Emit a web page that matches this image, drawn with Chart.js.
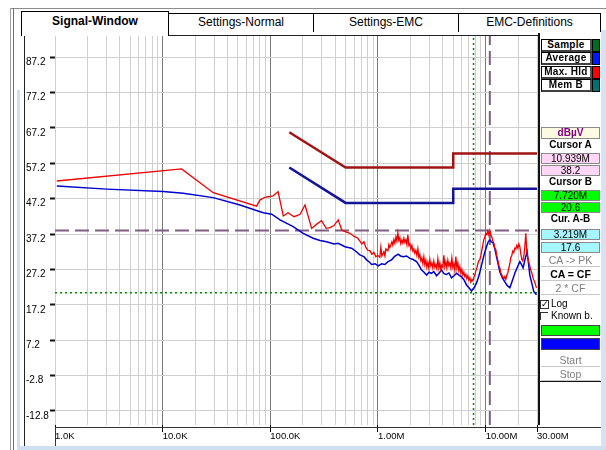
<!DOCTYPE html>
<html lang="en">
<head>
<meta charset="UTF-8">
<title>Signal-Window</title>
<script src="https://cdn.jsdelivr.net/npm/chart.js"></script>
<style>
    body {
        margin: 0;
        width: 606px;
        height: 450px;
        position: relative;
        overflow: hidden;
        background: #fff;
        font-family: Arial, "Liberation Sans", sans-serif;
        color: #000;
    }
    .abs { position: absolute; }
    .tab {
        position: absolute;
        top: 13px;
        height: 18px;
        border: 1px solid #000;
        border-bottom: none;
        background: #fff;
        font-size: 12px;
        line-height: 17px;
        text-align: center;
    }
    .tab.active { top: 11px; height: 24px; font-weight: bold; line-height: 19px; z-index: 3; }
    #chartBox { position: absolute; left: 24px; top: 36px; }
    .btn {
        position: absolute;
        left: 541px;
        width: 48px;
        height: 10px;
        border: 1px solid #000;
        border-right: 2px solid #505050;
        border-bottom: 2px solid #404040;
        font-size: 10px;
        font-weight: bold;
        line-height: 10px;
        text-align: center;
        letter-spacing: 0.3px;
        background: #fff;
    }
    .sw { position: absolute; left: 592px; width: 6px; height: 11px; border: 1px solid #000; }
    .val {
        position: absolute;
        left: 541px;
        width: 57px;
        height: 9px;
        border: 1px solid #8a8a8a;
        font-size: 10px;
        line-height: 9px;
        text-align: center;
    }
    .lbl {
        position: absolute;
        left: 541px;
        width: 59px;
        height: 10px;
        font-size: 10px;
        font-weight: bold;
        line-height: 10px;
        text-align: center;
    }
    .cmd {
        position: absolute;
        left: 541px;
        width: 59px;
        height: 11px;
        border-bottom: 1px solid #c8c8c8;
        font-size: 10.5px;
        line-height: 11px;
        text-align: center;
        color: #808080;
    }
</style>
</head>
<body>
    <!-- window frame and tabs -->
    <div class="abs" style="left:10px;top:8px;width:596px;height:1px;background:#8c8c8c"></div>
    <div class="abs" style="left:10px;top:8px;width:1px;height:442px;background:#a0a0a0"></div>
    <div class="abs" style="left:13px;top:8px;width:1px;height:442px;background:#707070"></div>
    <div class="abs" style="left:17px;top:90px;width:3px;height:360px;background:#cfe0f3"></div>
    <div class="abs" style="left:168px;top:31px;width:432px;height:1px;background:#000"></div>
    <div class="tab active" style="left:21px;width:146px">Signal-Window</div>
    <div class="tab" style="left:168px;width:144px">Settings-Normal</div>
    <div class="tab" style="left:313px;width:144px">Settings-EMC</div>
    <div class="tab" style="left:458px;width:141px">EMC-Definitions</div>

    <div id="chartBox"><canvas id="signalChart" width="582" height="412"></canvas></div>

    <!-- plot frame -->
    <div class="abs" style="left:24px;top:35px;width:1px;height:411px;background:#222"></div>
    <div class="abs" style="left:24px;top:35px;width:514px;height:1px;background:#222"></div>
    <div class="abs" style="left:55px;top:427px;width:546px;height:1px;background:#333"></div>
    <div class="abs" style="left:55px;top:427px;width:1px;height:19px;background:#333"></div>

    <!-- right panel -->
    <div class="abs" style="left:538px;top:33px;width:63px;height:392px;background:#fff;border-left:2px solid #111"></div>
    <div class="abs" style="left:538px;top:381px;width:63px;height:1px;background:#111"></div>

    <div class="btn" style="top:39px">Sample</div><div class="sw" style="top:39px;background:#006e1e"></div>
    <div class="btn" style="top:52px">Average</div><div class="sw" style="top:52px;background:#0018ff"></div>
    <div class="btn" style="top:66px">Max. Hld</div><div class="sw" style="top:66px;background:#ff0000"></div>
    <div class="btn" style="top:79px">Mem B</div><div class="sw" style="top:79px;background:#007070"></div>

    <div class="val" style="top:127px;height:10px;background:#fffbe2;color:#800080;font-weight:bold;line-height:10px">dBµV</div>
    <div class="lbl" style="top:140px">Cursor A</div>
    <div class="val" style="top:153px;background:#ffd6f6">10.939M</div>
    <div class="val" style="top:165px;background:#ffd6f6">38.2</div>
    <div class="lbl" style="top:177px">Cursor B</div>
    <div class="val" style="top:190px;background:#00ff00">7.720M</div>
    <div class="val" style="top:202px;background:#00ff00">20.6</div>
    <div class="lbl" style="top:214px">Cur. A-B</div>
    <div class="val" style="top:229px;background:#a6f6ff">3.219M</div>
    <div class="val" style="top:242px;background:#a6f6ff">17.6</div>
    <div class="cmd" style="top:255px">CA -&gt; PK</div>
    <div class="cmd" style="top:269px;color:#000;font-weight:bold">CA = CF</div>
    <div class="cmd" style="top:283px">2 * CF</div>

    <div class="abs" style="left:540px;top:300px;width:7px;height:7px;border:1px solid #333;font-size:9px;line-height:7px;text-align:center">&#10003;</div>
    <div class="abs" style="left:551px;top:298px;font-size:10px;line-height:11px">Log</div>
    <div class="abs" style="left:540px;top:312px;width:7px;height:7px;border-left:1px solid #333;border-top:1px solid #333"></div>
    <div class="abs" style="left:551px;top:310px;font-size:10px;line-height:11px">Known b.</div>
    <div class="abs" style="left:541px;top:325px;width:57px;height:9px;background:#00ff00;border:1px solid #444"></div>
    <div class="abs" style="left:541px;top:338px;width:57px;height:10px;background:#0000ff;border:1px solid #444"></div>
    <div class="cmd" style="top:355px">Start</div>
    <div class="cmd" style="top:369px">Stop</div>

    <!-- outer edges -->
    <div class="abs" style="left:601px;top:30px;width:5px;height:420px;background:#d4e4f6"></div>
    <div class="abs" style="left:17px;top:446px;width:589px;height:4px;background:#cfe0f3"></div>

<script>
    // frequencies in kHz, levels in dBuV
    const yTickValues = [87.2, 77.2, 67.2, 57.2, 47.2, 37.2, 27.2, 17.2, 7.2, -2.8, -12.8];
    const xGridValues = [1, 2, 3, 4, 5, 6, 7, 8, 9,
        10, 20, 30, 40, 50, 60, 70, 80, 90,
        100, 200, 300, 400, 500, 600, 700, 800, 900,
        1000, 2000, 3000, 4000, 5000, 6000, 7000, 8000, 9000,
        10000, 20000, 30000];
    const xLabelValues = [1, 10, 100, 1000, 10000, 30000];
    const xLabelTexts = ['1.0K', '10.0K', '100.0K', '1.00M', '10.00M', '30.00M'];
    const decadeValues = [10, 100, 1000, 10000];

    const maxHoldFreq = [
        1.04, 15.0, 29.5, 74.6, 80, 89, 106, 118, 132, 146,
        166, 189, 210, 242, 270, 299, 330, 358, 390, 427,
        462, 503, 548, 597, 651, 709, 740, 772, 806, 841,
        878, 916, 956, 998, 1041, 1064, 1087, 1134, 1160, 1184,
        1236, 1263, 1290, 1346, 1375, 1405, 1436, 1467, 1498, 1530,
        1563, 1597, 1630, 1667, 1703, 1740, 1778, 1816, 1856, 1895,
        1936, 1978, 2020, 2064, 2108, 2154, 2200, 2248, 2297, 2347,
        2397, 2449, 2502, 2556, 2612, 2668, 2725, 2784, 2845, 2906,
        2969, 3033, 3099, 3165, 3234, 3304, 3375, 3448, 3523, 3599,
        3677, 3755, 3837, 3920, 4005, 4091, 4178, 4269, 4362, 4456,
        4552, 4651, 4752, 4855, 4960, 5066, 5176, 5288, 5402, 5519,
        5638, 5760, 5885, 6012, 6142, 6275, 6411, 6550, 6691, 6834,
        6983, 7134, 7288, 7446, 7608, 7770, 7943, 8110, 8287, 8465,
        8648, 8833, 9025, 9220, 9420, 9623, 9840, 10040, 10250, 10480,
        10700, 10940, 11180, 11420, 11660, 11920, 12170, 12430, 12700, 12980,
        13260, 13550, 13840, 14140, 14450, 14760, 15080, 15400, 15730, 16070,
        16420, 16780, 17140, 17510, 17890, 18270, 18670, 19070, 19490, 19910,
        20340, 20780, 21230, 21680, 22150, 22630, 23120, 23620, 24130, 24650,
        25190, 25720, 26280, 26850, 27430, 28020, 28630, 29250, 29670
    ];
    const maxHoldLevel = [
        52.2, 55.6, 48.9, 45.1, 46.8, 47.6, 48.0, 49.2, 42.3, 43.2,
        42.1, 42.8, 45.4, 38.8, 40.0, 41.0, 38.8, 39.0, 39.6, 41.2,
        38.3, 37.8, 37.4, 36.6, 36.0, 34.4, 35.0, 33.4, 32.6, 32.5,
        31.5, 32.0, 30.8, 31.2, 30.6, 33.5, 31.0, 32.2, 31.0, 33.0,
        32.5, 34.2, 33.4, 35.0, 34.0, 35.6, 34.6, 36.4, 35.2, 37.5,
        35.4, 36.2, 34.5, 35.5, 34.6, 36.0, 34.8, 35.6, 34.2, 37.0,
        34.0, 34.5, 33.0, 34.0, 32.4, 33.0, 31.8, 32.6, 31.2, 33.0,
        30.6, 31.4, 29.6, 30.4, 28.8, 30.8, 28.5, 29.8, 27.8, 29.2,
        27.6, 30.0, 28.2, 29.0, 27.6, 29.5, 27.8, 28.6, 27.4, 30.2,
        27.6, 29.0, 27.2, 28.4, 27.8, 31.2, 28.0, 29.4, 27.6, 29.8,
        28.2, 29.0, 27.6, 30.4, 27.8, 28.8, 27.0, 30.8, 27.6, 29.0,
        26.8, 28.0, 26.2, 27.2, 25.6, 26.4, 25.2, 25.8, 24.6, 25.4,
        24.2, 24.8, 23.6, 24.3, 23.9, 25.0, 25.6, 26.8, 27.6, 28.8,
        29.6, 30.0, 31.0, 32.6, 34.2, 35.6, 36.4, 37.4, 37.0, 38.0,
        37.0, 38.3, 37.0, 36.4, 35.2, 34.6, 33.2, 32.8, 31.0, 29.8,
        28.4, 27.6, 26.2, 25.6, 25.0, 24.6, 25.2, 24.4, 25.6, 26.2,
        27.6, 28.8, 30.6, 31.2, 32.4, 32.0, 33.2, 33.0, 34.0, 33.2,
        34.4, 33.6, 31.6, 30.0, 29.6, 31.0, 33.6, 37.4, 32.0, 30.4,
        29.2, 28.2, 27.0, 26.2, 25.0, 24.2, 23.6, 22.6, 22.0
    ];

    const averageFreq = [
        1.04, 3.02, 10.1, 15.5, 29.5, 52.2, 85.9, 103, 123, 163,
        202, 250, 290, 333, 390, 427, 493, 569, 630, 679,
        740, 784, 830, 873, 940, 1004, 1080, 1158, 1240, 1337,
        1420, 1540, 1620, 1714, 1840, 1978, 2120, 2281, 2400, 2541,
        2680, 2826, 2980, 3145, 3300, 3499, 3700, 3894, 4100, 4335,
        4560, 4819, 5080, 5370, 5660, 5970, 6300, 6651, 7000, 7396,
        7800, 8226, 8700, 9162, 9650, 10190, 10560, 10940, 11340, 11750,
        12180, 12620, 13080, 13550, 14300, 15070, 15900, 16790, 17700, 18670,
        19700, 20780, 21500, 22290, 23200, 24270, 25000, 25720, 26800, 28020,
        29670
    ];
    const averageLevel = [
        50.8, 49.9, 49.2, 48.7, 47.5, 45.4, 43.2, 42.8, 41.2, 39.3,
        37.4, 36.0, 35.4, 35.0, 34.4, 34.6, 33.6, 33.2, 32.2, 31.3,
        30.8, 29.9, 29.3, 28.6, 28.8, 28.2, 28.8, 28.6, 29.4, 29.9,
        30.8, 31.5, 31.0, 30.8, 31.0, 30.3, 30.0, 29.4, 28.4, 27.0,
        26.4, 25.6, 26.4, 26.1, 26.6, 25.4, 26.2, 27.0, 26.0, 25.8,
        26.2, 24.8, 25.4, 26.1, 25.6, 25.1, 24.2, 22.8, 22.0, 21.1,
        22.0, 23.3, 25.6, 28.4, 31.2, 33.6, 35.0, 35.5, 35.0, 34.6,
        33.0, 30.8, 28.6, 26.5, 24.8, 23.7, 22.6, 22.0, 24.0, 26.1,
        27.8, 29.4, 28.6, 27.6, 30.0, 32.2, 29.0, 25.6, 23.4, 20.9,
        20.0
    ];

    // CISPR limit lines
    const limitFreq = [150, 500, 5000, 5000, 30000];
    const qpLimitLevel = [66, 56, 56, 60, 60];
    const avLimitLevel = [56, 46, 46, 50, 50];

    const cursorAFreq = 10939, cursorALevel = 38.2;
    const cursorBFreq = 7720, cursorBLevel = 20.6;

    const yMin = -16.8, yMax = 93.2;
    const xMin = 1, xMax = 30000;

    function toPoints(xs, ys) {
        return xs.map((x, i) => ({ x: x, y: ys[i] }));
    }

    const purple = '#7f5f80';
    const green = '#008a00';

    const datasets = [
        { data: toPoints([xMin, xMax], [cursorALevel, cursorALevel]), borderColor: purple, borderWidth: 2, borderDash: [14, 6] },
        { data: toPoints([cursorAFreq, cursorAFreq], [yMin, yMax]), borderColor: purple, borderWidth: 2, borderDash: [14, 6] },
        { data: toPoints([xMin, xMax], [cursorBLevel, cursorBLevel]), borderColor: green, borderWidth: 1.5, borderDash: [2, 3] },
        { data: toPoints([cursorBFreq, cursorBFreq], [yMin, yMax]), borderColor: green, borderWidth: 1.5, borderDash: [2, 3] },
        { data: toPoints(limitFreq, qpLimitLevel), borderColor: '#a01414', borderWidth: 2.5 },
        { data: toPoints(limitFreq, avLimitLevel), borderColor: '#141496', borderWidth: 2.5 },
        { data: toPoints(averageFreq, averageLevel), borderColor: '#0000d0', borderWidth: 1.5 },
        { data: toPoints(maxHoldFreq, maxHoldLevel), borderColor: '#f00000', borderWidth: 1.3 }
    ].map((d, i) => Object.assign({ showLine: true, pointRadius: 0, fill: false, tension: 0, order: 8 - i }, d));

    const tickFont = { family: 'Arial, "Liberation Sans", sans-serif', size: 9.5, lineHeight: 1 };

    new Chart(document.getElementById('signalChart'), {
        type: 'scatter',
        data: { datasets: datasets },
        options: {
            responsive: false,
            animation: false,
            devicePixelRatio: 1,
            layout: { padding: { left: 2, right: 69, top: 0, bottom: 2 } },
            plugins: { legend: { display: false }, tooltip: { enabled: false } },
            scales: {
                x: {
                    type: 'logarithmic',
                    min: xMin,
                    max: xMax,
                    afterBuildTicks: s => { s.ticks = xGridValues.map(v => ({ value: v })); },
                    afterFit: s => { s.height = 21; s.paddingLeft = 0; s.paddingRight = 0; },
                    border: { display: false },
                    grid: {
                        color: c => decadeValues.includes(c.tick.value) ? '#7a7a7a' : '#cfcfcf',
                        lineWidth: 1,
                        tickLength: 7,
                        tickColor: c => xLabelValues.includes(c.tick.value) ? '#000' : 'rgba(0,0,0,0)'
                    },
                    ticks: {
                        autoSkip: false,
                        maxRotation: 0,
                        align: 'start',
                        padding: 0,
                        color: '#000',
                        font: tickFont,
                        callback: v => {
                            const i = xLabelValues.indexOf(v);
                            return i >= 0 ? xLabelTexts[i] : '';
                        }
                    }
                },
                y: {
                    min: yMin,
                    max: yMax,
                    afterBuildTicks: s => { s.ticks = yTickValues.map(v => ({ value: v })); },
                    afterFit: s => { s.width = 29; s.paddingTop = 0; s.paddingBottom = 0; },
                    border: { display: false },
                    grid: { color: '#cfcfcf', lineWidth: 1, tickLength: 5, tickColor: '#111', tickWidth: 2 },
                    ticks: {
                        crossAlign: 'far',
                        padding: 0,
                        color: '#000',
                        font: Object.assign({}, tickFont, { size: 10 }),
                        callback: v => ['', v.toFixed(1)]
                    }
                }
            }
        }
    });
</script>
</body>
</html>
